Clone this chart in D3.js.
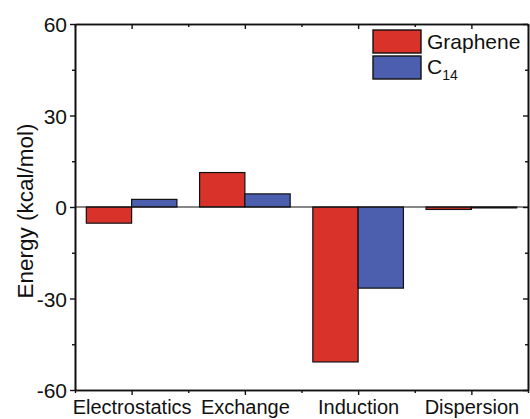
<!DOCTYPE html>
<html>
<head>
<meta charset="utf-8">
<script src="https://cdn.jsdelivr.net/npm/d3@7"></script>
<style>
  html, body { margin: 0; padding: 0; background: #fff; }
  svg { display: block; font-family: "Liberation Sans", Arial, sans-serif; }
</style>
</head>
<body>
<svg id="chart" width="530" height="419"></svg>
<script>
(function () {
    'use strict';

    const categories = ['Electrostatics', 'Exchange', 'Induction', 'Dispersion'];
    const graphene = [-5.3, 11.3, -50.8, -0.8];
    const c14 = [2.5, 4.3, -26.6, -0.3];
    const yMajor = [-60, -30, 0, 30, 60];
    const yMinor = [-45, -15, 15, 45];

    const colors = { graphene: '#d8322a', c14: '#4b5fae' };

    const width = 530, height = 419;
    const m = { left: 75, right: 2, top: 24, bottom: 29 };
    const plotW = width - m.left - m.right;
    const plotH = height - m.top - m.bottom;

    const svg = d3.select('#chart');

    const x = d3.scaleLinear().domain([0.5, categories.length + 0.5]).range([m.left, m.left + plotW]);
    const y = d3.scaleLinear().domain([-60, 60]).range([m.top + plotH, m.top]);

    const step = x(2) - x(1);
    const barW = step * 0.4;

    const xMajor = categories.map((d, i) => i + 1);
    const xMinor = d3.range(0.5, categories.length + 1, 1);

    // bars
    const g = svg.append('g');
    const series = [
        { key: 'graphene', values: graphene, offset: -1 },
        { key: 'c14', values: c14, offset: 0 }
    ];
    series.forEach((s) => {
        g.selectAll(null)
            .data(s.values)
            .join('rect')
            .attr('x', (d, i) => x(i + 1) + s.offset * barW)
            .attr('width', barW)
            .attr('y', (d) => y(Math.max(0, d)))
            .attr('height', (d) => Math.abs(y(d) - y(0)))
            .attr('fill', colors[s.key])
            .attr('stroke', '#111')
            .attr('stroke-width', 1.2);
    });

    // zero line
    svg.append('line')
        .attr('x1', x.range()[0]).attr('x2', x.range()[1])
        .attr('y1', y(0)).attr('y2', y(0))
        .attr('stroke', '#111').attr('stroke-width', 1.2);

    const styleAxis = (sel) => {
        sel.select('.domain').attr('stroke', '#111').attr('stroke-width', 1.6);
        sel.selectAll('.tick line').attr('stroke', '#111').attr('stroke-width', 1.4);
        sel.selectAll('text').attr('fill', '#111').attr('font-size', 21);
    };

    // left axis
    svg.append('g')
        .attr('transform', `translate(${m.left},0)`)
        .call(d3.axisLeft(y).tickValues(yMajor).tickSize(5).tickPadding(3).tickSizeOuter(0)
            .tickFormat((d) => String(d)))
        .call(styleAxis)
        .call((a) => a.selectAll('text').attr('dy', '0.36em'));
    svg.append('g')
        .attr('transform', `translate(${m.left},0)`)
        .call(d3.axisLeft(y).tickValues(yMinor).tickSize(3).tickFormat('').tickSizeOuter(0))
        .call(styleAxis);

    // right axis (mirror, ticks inside)
    svg.append('g')
        .attr('transform', `translate(${m.left + plotW},0)`)
        .call(d3.axisLeft(y).tickValues(yMajor).tickSize(5).tickFormat('').tickSizeOuter(0))
        .call(styleAxis);
    svg.append('g')
        .attr('transform', `translate(${m.left + plotW},0)`)
        .call(d3.axisLeft(y).tickValues(yMinor).tickSize(3).tickFormat('').tickSizeOuter(0))
        .call(styleAxis);

    // bottom axis
    svg.append('g')
        .attr('transform', `translate(0,${m.top + plotH})`)
        .call(d3.axisBottom(x).tickValues(xMajor).tickSize(5).tickPadding(5).tickSizeOuter(0)
            .tickFormat((d) => categories[d - 1]))
        .call(styleAxis)
        .call((a) => a.selectAll('text').attr('dy', '0.71em').attr('font-size', 20));
    svg.append('g')
        .attr('transform', `translate(0,${m.top + plotH})`)
        .call(d3.axisBottom(x).tickValues(xMinor).tickSize(3).tickFormat('').tickSizeOuter(0))
        .call(styleAxis);

    // top axis (mirror, ticks inside)
    svg.append('g')
        .attr('transform', `translate(0,${m.top})`)
        .call(d3.axisBottom(x).tickValues(xMajor).tickSize(5).tickFormat('').tickSizeOuter(0))
        .call(styleAxis);
    svg.append('g')
        .attr('transform', `translate(0,${m.top})`)
        .call(d3.axisBottom(x).tickValues(xMinor).tickSize(3).tickFormat('').tickSizeOuter(0))
        .call(styleAxis);

    // y label
    svg.append('text')
        .attr('transform', `translate(33,${y(0) + 4}) rotate(-90)`)
        .attr('text-anchor', 'middle')
        .attr('font-size', 22.5)
        .attr('fill', '#111')
        .text('Energy (kcal/mol)');

    // legend
    const lg = svg.append('g').attr('transform', 'translate(373,30)');
    lg.append('rect').attr('width', 48).attr('height', 23)
        .attr('fill', colors.graphene).attr('stroke', '#111').attr('stroke-width', 1.4);
    lg.append('rect').attr('y', 26).attr('width', 48).attr('height', 23)
        .attr('fill', colors.c14).attr('stroke', '#111').attr('stroke-width', 1.4);
    lg.append('text').attr('x', 54).attr('y', 19).attr('font-size', 21).attr('fill', '#111')
        .text('Graphene');
    const ct = lg.append('text').attr('x', 54).attr('y', 44).attr('font-size', 21).attr('fill', '#111');
    ct.append('tspan').text('C');
    ct.append('tspan').attr('font-size', 14).attr('dy', 6).text('14');
})();
</script>
</body>
</html>
